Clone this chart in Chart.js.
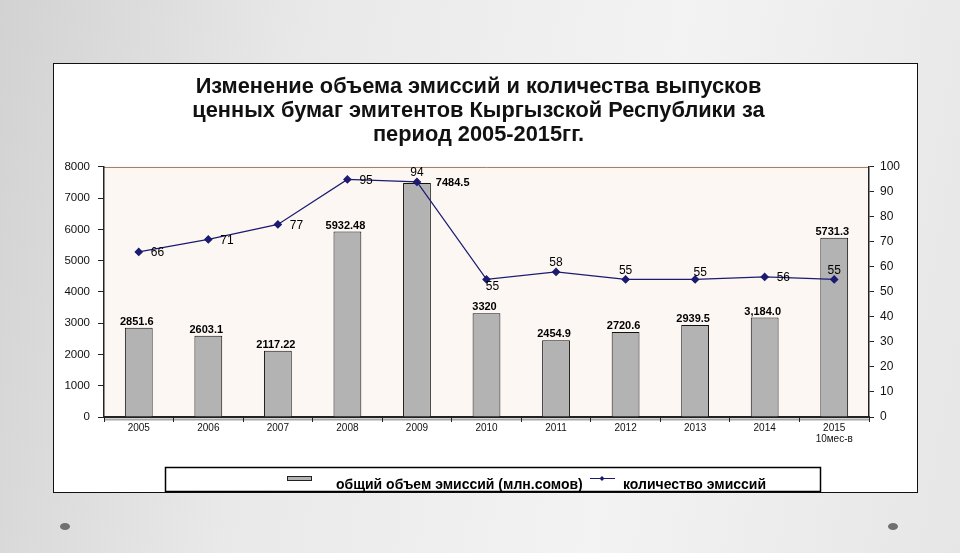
<!DOCTYPE html>
<html>
<head>
<meta charset="utf-8">
<script src="https://cdn.jsdelivr.net/npm/chart.js@4.4.1/dist/chart.umd.min.js"></script>
<style>
    html, body {
        margin: 0;
        padding: 0;
        width: 960px;
        height: 553px;
        overflow: hidden;
    }
    body {
        position: relative;
        background: linear-gradient(100deg, #d2d2d2 0%, #e9e9e9 30%, #f3f3f3 65%, #e6e6e6 100%);
        font-family: "Liberation Sans", Arial, sans-serif;
    }
    #panel {
        position: absolute;
        left: 53px;
        top: 63px;
        width: 863px;
        height: 428px;
        background: #ffffff;
        border: 1.5px solid #111;
    }
    .dot {
        position: absolute;
        top: 523px;
        width: 10px;
        height: 7px;
        border-radius: 50%;
        background: #707070;
    }
    #wrap {
        position: absolute;
        left: 0;
        top: 0;
        width: 960px;
        height: 553px;
    }
</style>
</head>
<body>
<div id="panel"></div>
<div class="dot" style="left:60px"></div>
<div class="dot" style="left:888px"></div>
<div id="wrap"><canvas id="myChart" width="960" height="553"></canvas></div>

<script>
const years = ['2005', '2006', '2007', '2008', '2009', '2010', '2011', '2012', '2013', '2014', ['2015', '10мес-в']];

// общий объем эмиссий (млн.сомов)
const volume = [2851.6, 2603.1, 2117.22, 5932.48, 7484.5, 3320, 2454.9, 2720.6, 2939.5, 3184.0, 5731.3];
const volumeText = ['2851.6', '2603.1', '2117.22', '5932.48', '7484.5', '3320', '2454.9', '2720.6', '2939.5', '3,184.0', '5731.3'];

// количество эмиссий
const issues = [66, 71, 77, 95, 94, 55, 58, 55, 55, 56, 55];

const leftTicks = [0, 1000, 2000, 3000, 4000, 5000, 6000, 7000, 8000];
const rightTicks = [0, 10, 20, 30, 40, 50, 60, 70, 80, 90, 100];

// where each value label sits next to its mark
const volumeLabelPos = ['top', 'top', 'top', 'top', 'right', 'top', 'top', 'top', 'top', 'top', 'top'];
const issuesLabelPos = ['right', 'right', 'right', 'right', 'top', 'bottomRight', 'top', 'top', 'topRight', 'right', 'top'];

const FONT = '"Liberation Sans", Arial, sans-serif';
const NAVY = '#1b1b72';

// фон области построения и верхняя рамка
const plotBackground = {
    id: 'plotBackground',
    beforeDraw(chart) {
        const { ctx, chartArea: a } = chart;
        ctx.save();
        ctx.fillStyle = '#fdf7f3';
        ctx.fillRect(a.left, a.top, a.right - a.left, a.bottom - a.top);
        ctx.strokeStyle = '#a27b5e';
        ctx.lineWidth = 1;
        ctx.beginPath();
        ctx.moveTo(a.left, a.top + 0.5);
        ctx.lineTo(a.right, a.top + 0.5);
        ctx.stroke();
        // тень под осью X
        ctx.strokeStyle = '#a8a8a8';
        ctx.lineWidth = 2;
        ctx.beginPath();
        ctx.moveTo(a.left, a.bottom + 2.5);
        ctx.lineTo(a.right, a.bottom + 2.5);
        ctx.stroke();
        ctx.restore();
    }
};

// подписи значений
const valueLabels = {
    id: 'valueLabels',
    afterDatasetsDraw(chart) {
        const { ctx } = chart;
        ctx.save();
        ctx.fillStyle = '#000';
        ctx.textBaseline = 'middle';

        // столбцы
        ctx.font = 'bold 11px ' + FONT;
        chart.getDatasetMeta(0).data.forEach((bar, i) => {
            const pos = volumeLabelPos[i];
            if (pos === 'right') {
                ctx.textAlign = 'left';
                ctx.fillText(volumeText[i], bar.x + bar.width / 2 + 5, bar.y);
            } else {
                ctx.textAlign = 'center';
                ctx.fillText(volumeText[i], bar.x - 2, bar.y - 6);
            }
        });

        // линия
        ctx.font = '12px ' + FONT;
        chart.getDatasetMeta(1).data.forEach((pt, i) => {
            const pos = issuesLabelPos[i];
            let dx = 0, dy = 0;
            if (pos === 'right') { dx = 12; dy = 1; ctx.textAlign = 'left'; }
            else if (pos === 'top') { dx = 0; dy = -9; ctx.textAlign = 'center'; }
            else if (pos === 'topRight') { dx = 5; dy = -7; ctx.textAlign = 'center'; }
            else if (pos === 'bottomRight') { dx = 6; dy = 7; ctx.textAlign = 'center'; }
            ctx.fillText(String(issues[i]), pt.x + dx, pt.y + dy);
        });
        ctx.restore();
    }
};

// легенда в рамке
const boxedLegend = {
    id: 'boxedLegend',
    afterDraw(chart) {
        const { ctx } = chart;
        ctx.save();
        ctx.fillStyle = '#fff';
        ctx.fillRect(165, 467, 656, 25);
        ctx.strokeStyle = '#000';
        ctx.lineWidth = 1.5;
        ctx.strokeRect(165.5, 467.5, 655, 24);

        ctx.fillStyle = '#b3b3b3';
        ctx.fillRect(287, 476, 25, 5);
        ctx.lineWidth = 1;
        ctx.strokeStyle = '#222';
        ctx.strokeRect(287.5, 476.5, 24, 4);

        ctx.strokeStyle = NAVY;
        ctx.beginPath();
        ctx.moveTo(590, 478.5);
        ctx.lineTo(615, 478.5);
        ctx.stroke();
        ctx.fillStyle = NAVY;
        ctx.beginPath();
        ctx.moveTo(602, 476);
        ctx.lineTo(604.5, 478.5);
        ctx.lineTo(602, 481);
        ctx.lineTo(599.5, 478.5);
        ctx.closePath();
        ctx.fill();

        ctx.fillStyle = '#000';
        ctx.font = 'bold 14px ' + FONT;
        ctx.textAlign = 'left';
        ctx.textBaseline = 'alphabetic';
        ctx.fillText('общий объем эмиссий (млн.сомов)', 336, 489);
        ctx.fillText('количество эмиссий', 623, 489);
        ctx.restore();
    }
};

const data = {
    labels: years,
    datasets: [{
        type: 'bar',
        label: 'общий объем эмиссий (млн.сомов)',
        data: volume,
        yAxisID: 'y',
        backgroundColor: '#b3b3b3',
        borderColor: '#111',
        borderWidth: 1,
        barPercentage: 0.4,
        categoryPercentage: 1.0,
        order: 1
    },
    {
        type: 'line',
        label: 'количество эмиссий',
        data: issues,
        yAxisID: 'y1',
        borderColor: NAVY,
        borderWidth: 1.2,
        backgroundColor: NAVY,
        pointStyle: 'rectRot',
        pointRadius: 3.5,
        pointBackgroundColor: NAVY,
        pointBorderColor: NAVY,
        tension: 0,
        fill: false,
        order: 0
    }]
};

const config = {
    type: 'bar',
    data: data,
    plugins: [plotBackground, valueLabels, boxedLegend],
    options: {
        responsive: false,
        animation: false,
        layout: {
            padding: { left: 48, right: 51, top: 63, bottom: 108 }
        },
        plugins: {
            legend: { display: false },
            tooltip: { enabled: false },
            title: {
                display: true,
                text: [
                    'Изменение объема эмиссий и количества выпусков',
                    'ценных бумаг эмитентов Кыргызской Республики за',
                    'период 2005-2015гг.'
                ],
                color: '#111',
                font: { family: FONT, size: 21.8, weight: 'bold', lineHeight: 1.1 },
                padding: { top: 12, bottom: 20 }
            }
        },
        scales: {
            x: {
                offset: true,
                grid: {
                    offset: true,
                    drawOnChartArea: false,
                    tickLength: 5,
                    color: '#222'
                },
                border: { color: '#222', width: 2 },
                ticks: {
                    color: '#111',
                    padding: 1,
                    font: { family: FONT, size: 10 , lineHeight: 1.1 }
                },
                afterFit: s => { s.height = 28; }
            },
            y: {
                position: 'left',
                min: 0,
                max: 8000,
                afterBuildTicks: s => { s.ticks = leftTicks.map(v => ({ value: v })); },
                grid: { drawOnChartArea: false, tickLength: 6, color: '#222' },
                border: { color: '#222', width: 1.5 },
                ticks: {
                    color: '#111',
                    padding: 8,
                    font: { family: FONT, size: 11.5 },
                    callback: v => String(v)
                },
                afterFit: s => { s.width = 56; }
            },
            y1: {
                position: 'right',
                min: 0,
                max: 100,
                afterBuildTicks: s => { s.ticks = rightTicks.map(v => ({ value: v })); },
                grid: { drawOnChartArea: false, tickLength: 5, color: '#222' },
                border: { color: '#222', width: 1.5 },
                ticks: {
                    color: '#111',
                    padding: 6,
                    font: { family: FONT, size: 12 },
                    callback: v => String(v)
                },
                afterFit: s => { s.width = 40; }
            }
        }
    }
};

const myChart = new Chart(
    document.getElementById('myChart'),
    config
);
</script>
</body>
</html>
